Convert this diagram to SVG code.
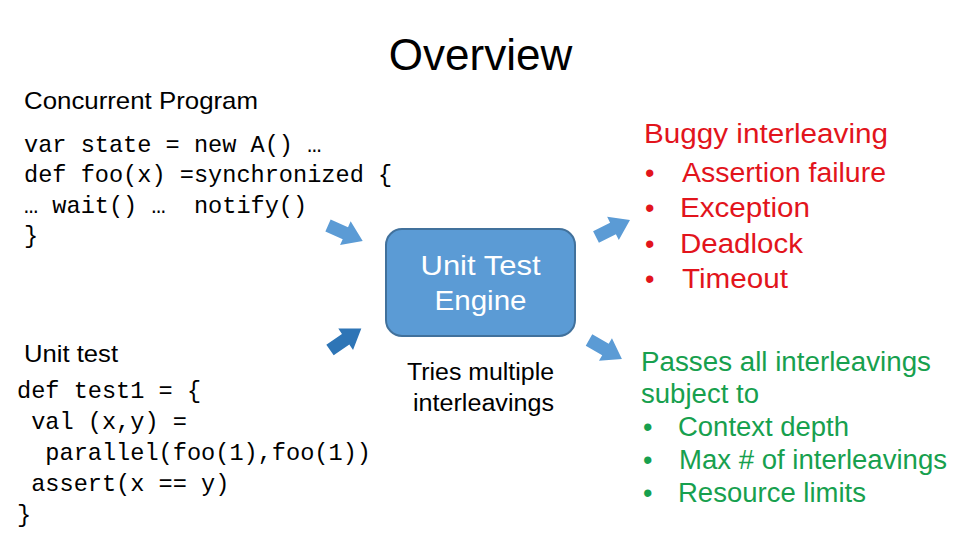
<svg xmlns="http://www.w3.org/2000/svg" width="960" height="540" viewBox="0 0 960 540">
<defs>
<style>
.sans{font-family:"Liberation Sans",Arial,sans-serif;}
.mono{font-family:"Liberation Mono","DejaVu Sans Mono",monospace;font-size:23.6px;fill:#000;white-space:pre;}
.red{fill:#e2141c;font-size:27px;}
.green{fill:#17a04e;font-size:27px;}
.arr{fill:#5b9bd5;}
.arrDark{fill:#2e75b6;}
</style>
<path id="blk" d="M0,-6.5 L19,-6.5 L19,-13 L38,0 L19,13 L19,6.5 L0,6.5 Z"/>
</defs>
<rect width="960" height="540" fill="#ffffff"/>
<text class="sans" x="480.5" y="70" font-size="44" text-anchor="middle" fill="#000">Overview</text>

<g id="concurrent-program">
<text class="sans" x="24" y="109" font-size="24" textLength="234" lengthAdjust="spacingAndGlyphs" fill="#000">Concurrent Program</text>
<text class="mono" x="24" y="152">var state = new A() …</text>
<text class="mono" x="24" y="182">def foo(x) =synchronized {</text>
<text class="mono" x="24" y="213">… wait() …  notify()</text>
<text class="mono" x="24" y="243">}</text>
</g>

<g id="unit-test">
<text class="sans" x="24" y="362" font-size="24" textLength="94" lengthAdjust="spacingAndGlyphs" fill="#000">Unit test</text>
<text class="mono" x="17" y="398">def test1 = {</text>
<text class="mono" x="17" y="429"> val (x,y) =</text>
<text class="mono" x="17" y="460">  parallel(foo(1),foo(1))</text>
<text class="mono" x="17" y="491"> assert(x == y)</text>
<text class="mono" x="17" y="522">}</text>
</g>

<g id="engine">
<rect x="386" y="229" width="189" height="107" rx="16" fill="#5b9bd5" stroke="#41719c" stroke-width="2"/>
<text class="sans" x="480.5" y="275" font-size="28" text-anchor="middle" fill="#ffffff" textLength="120" lengthAdjust="spacingAndGlyphs">Unit Test</text>
<text class="sans" x="480.5" y="310" font-size="28" text-anchor="middle" fill="#ffffff" textLength="92" lengthAdjust="spacingAndGlyphs">Engine</text>
<text class="sans" x="480.5" y="380" font-size="23" text-anchor="middle" fill="#000" textLength="147" lengthAdjust="spacingAndGlyphs">Tries multiple</text>
<text class="sans" x="483.5" y="411" font-size="23" text-anchor="middle" fill="#000" textLength="141" lengthAdjust="spacingAndGlyphs">interleavings</text>
</g>

<g id="buggy">
<text class="sans red" x="644" y="143" textLength="244" lengthAdjust="spacingAndGlyphs">Buggy interleaving</text>
<text class="sans red" x="645" y="182">•</text>
<text class="sans red" x="682" y="182" textLength="204" lengthAdjust="spacingAndGlyphs">Assertion failure</text>
<text class="sans red" x="645" y="217">•</text>
<text class="sans red" x="680" y="217" textLength="130" lengthAdjust="spacingAndGlyphs">Exception</text>
<text class="sans red" x="645" y="253">•</text>
<text class="sans red" x="680" y="253" textLength="123" lengthAdjust="spacingAndGlyphs">Deadlock</text>
<text class="sans red" x="645" y="288">•</text>
<text class="sans red" x="682" y="288" textLength="106" lengthAdjust="spacingAndGlyphs">Timeout</text>
</g>

<g id="passes">
<text class="sans green" x="641" y="371" textLength="290" lengthAdjust="spacingAndGlyphs">Passes all interleavings</text>
<text class="sans green" x="641" y="403" textLength="118" lengthAdjust="spacingAndGlyphs">subject to</text>
<text class="sans green" x="643" y="436">•</text>
<text class="sans green" x="678" y="436" textLength="171" lengthAdjust="spacingAndGlyphs">Context depth</text>
<text class="sans green" x="643" y="469">•</text>
<text class="sans green" x="679" y="469" textLength="268" lengthAdjust="spacingAndGlyphs">Max # of interleavings</text>
<text class="sans green" x="643" y="502">•</text>
<text class="sans green" x="678" y="502" textLength="188" lengthAdjust="spacingAndGlyphs">Resource limits</text>
</g>

<g id="connectors">
<use href="#blk" class="arr" transform="translate(328,225.5) rotate(24)"/>
<use href="#blk" class="arrDark" transform="translate(330,350) rotate(-34.5)"/>
<use href="#blk" class="arr" transform="translate(596,237) rotate(-26.6)"/>
<use href="#blk" class="arr" transform="translate(589,340) rotate(30)"/>
</g>
</svg>
